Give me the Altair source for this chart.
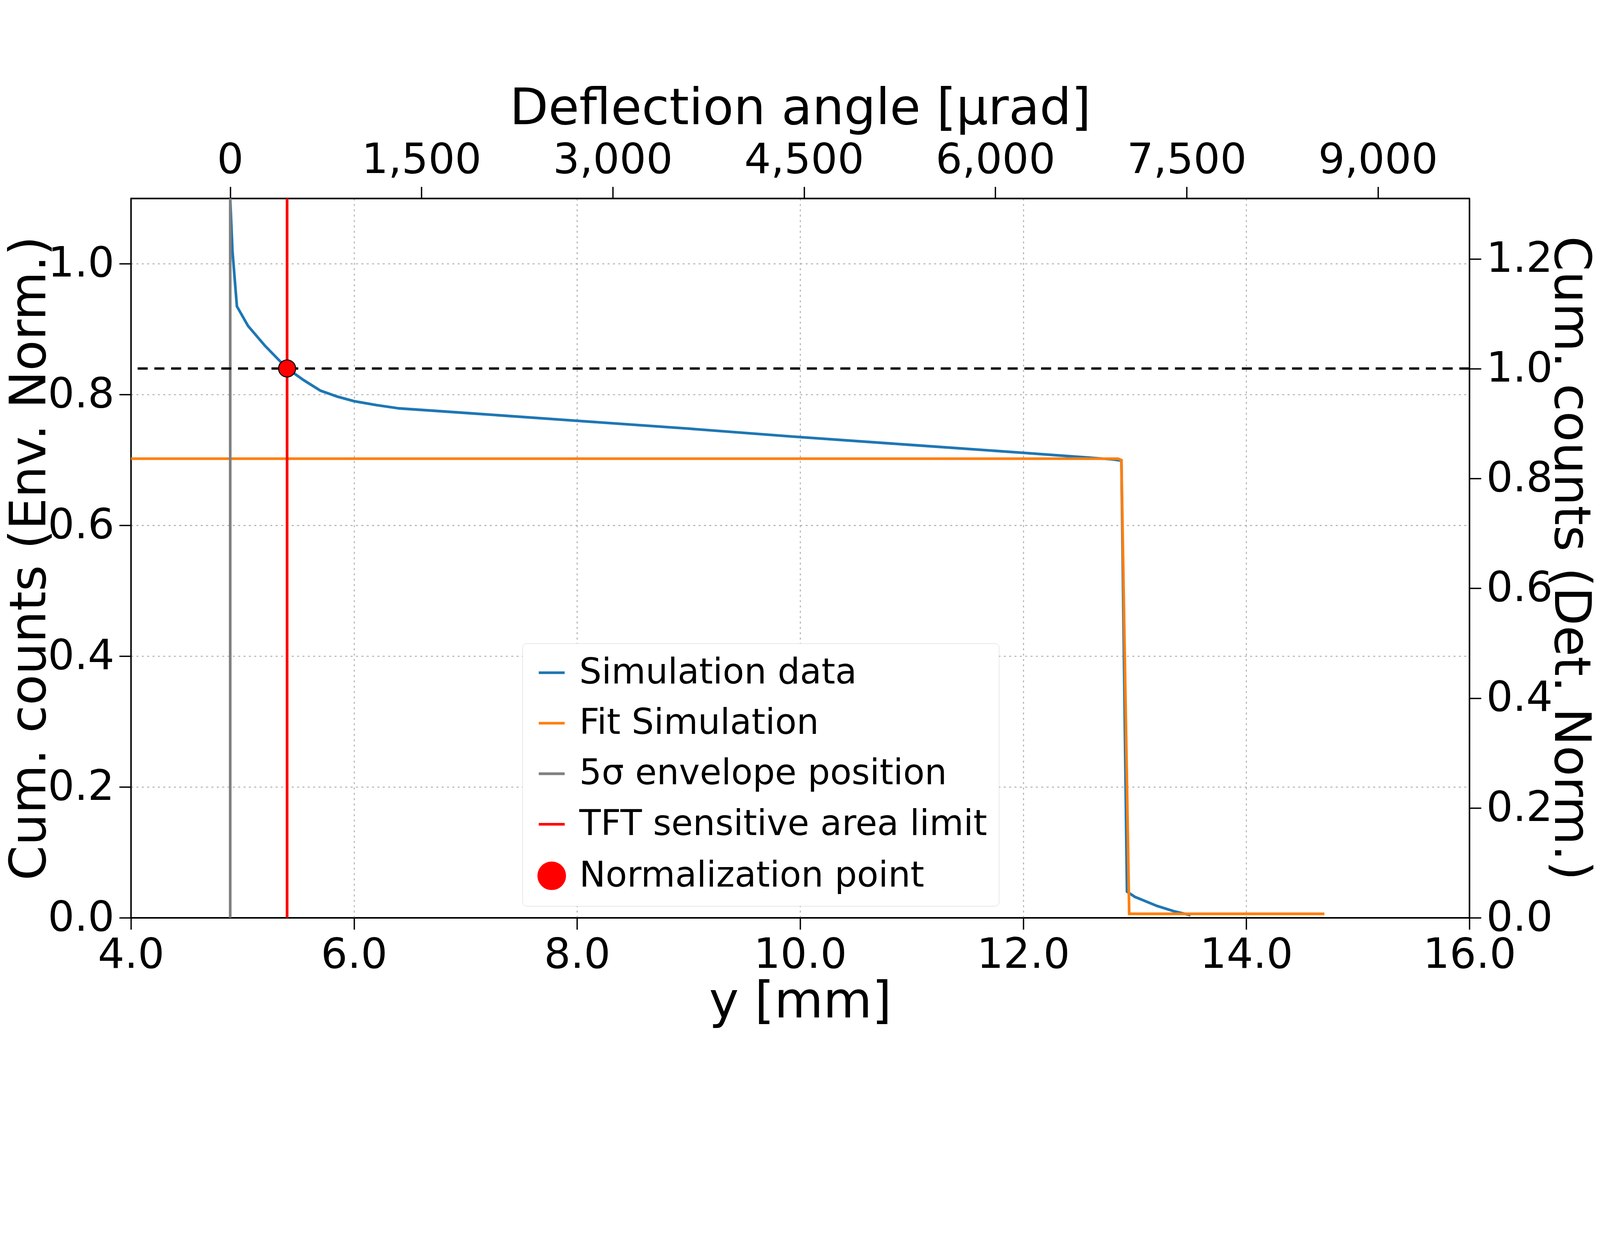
import altair as alt
import pandas as pd

# simulation curve (y [mm], cumulative counts, envelope normalised)
sim_y = [4.89, 4.91, 4.95, 5.05, 5.2, 5.4, 5.55, 5.7, 5.85, 6.0, 6.2, 6.4, 7.0, 8.0, 9.0, 10.0, 11.0, 12.0, 12.8, 12.88, 12.93, 13.0, 13.1, 13.2, 13.35, 13.5]
sim_c = [1.10, 1.02, 0.935, 0.905, 0.875, 0.84, 0.822, 0.806, 0.797, 0.79, 0.784, 0.779, 0.772, 0.760, 0.748, 0.735, 0.723, 0.711, 0.701, 0.699, 0.04, 0.032, 0.025, 0.018, 0.01, 0.004]

fit_y = [4.0, 12.85, 12.88, 12.95, 14.7]
fit_c = [0.702, 0.702, 0.70, 0.006, 0.006]

env_pos = 4.89
tft_pos = 5.4
norm_c = 0.84
top_domain = [-778, 9717]
right_domain = [0, 1.31]

labels = ["Simulation data", "Fit Simulation", "5σ envelope position",
          "TFT sensitive area limit", "Normalization point"]
colors = ["#1f77b4", "#ff7f0e", "gray", "red", "red"]
shapes = ["stroke", "stroke", "stroke", "stroke", "circle"]

lines = pd.concat([
    pd.DataFrame({"x": sim_y, "c": sim_c, "s": labels[0]}),
    pd.DataFrame({"x": fit_y, "c": fit_c, "s": labels[1]}),
    pd.DataFrame({"x": [env_pos, env_pos], "c": [0, 1.1], "s": labels[2]}),
    pd.DataFrame({"x": [tft_pos, tft_pos], "c": [0, 1.1], "s": labels[3]}),
])
point = pd.DataFrame({"x": [tft_pos], "c": [norm_c], "s": [labels[4]]})

FS = 125
color = alt.Color("s:N", scale=alt.Scale(domain=labels, range=colors), title=None,
                  legend=alt.Legend(orient="none", legendX=1170, legendY=1330,
                                    labelFontSize=105, symbolSize=6000, symbolStrokeWidth=8,
                                    labelOffset=30, rowPadding=45, padding=35,
                                    strokeColor="#cccccc", fillColor="white",
                                    cornerRadius=12, labelLimit=3000))
shape = alt.Shape("s:N", scale=alt.Scale(domain=labels, range=shapes), title=None)

common = dict(titleFontSize=150, labelFontSize=FS, tickSize=35, tickWidth=4,
              labelLimit=2000, labelFlush=False, labelPadding=15)
grid = dict(gridDash=[6, 10], gridColor="#b0b0b0", gridWidth=3)
xax = alt.Axis(title="y [mm]", format=".1f", values=[4, 6, 8, 10, 12, 14, 16], **common, **grid)
yax = alt.Axis(title="Cum. counts (Env. Norm.)", values=[0, 0.2, 0.4, 0.6, 0.8, 1.0],
               format=".1f", titlePadding=25, **common, **grid)
X = alt.X("x:Q", scale=alt.Scale(domain=[4, 16], nice=False), axis=xax)
Y = alt.Y("c:Q", scale=alt.Scale(domain=[0, 1.1], nice=False), axis=yax)

base = alt.Chart(lines).mark_line(strokeWidth=8, clip=True).encode(
    x=X, y=Y, color=color, shape=shape, detail="s:N", order=alt.Order("x:Q"))

dash = alt.Chart(pd.DataFrame({"c": [norm_c]})).mark_rule(
    color="black", strokeWidth=7, strokeDash=[30, 20]).encode(y="c:Q")

pt = alt.Chart(point).mark_point(filled=True, size=2600, opacity=1,
                                 stroke="black", strokeWidth=3).encode(
    x="x:Q", y="c:Q", color=color, shape=shape)

main = alt.layer(base, dash, pt)

top = alt.Chart(pd.DataFrame({"a": top_domain})).mark_point(opacity=0).encode(
    x=alt.X("a:Q", scale=alt.Scale(domain=top_domain, nice=False),
            axis=alt.Axis(orient="top", title="Deflection angle [μrad]",
                          values=[0, 1500, 3000, 4500, 6000, 7500, 9000],
                          grid=False, titlePadding=15, **common)))
right = alt.Chart(pd.DataFrame({"r": right_domain})).mark_point(opacity=0).encode(
    y=alt.Y("r:Q", scale=alt.Scale(domain=right_domain, nice=False),
            axis=alt.Axis(orient="right", title="Cum. counts (Det. Norm.)",
                          values=[0, 0.2, 0.4, 0.6, 0.8, 1.0, 1.2], format=".1f",
                          grid=False, titlePadding=25, **common)))

chart = alt.layer(main, top, right).resolve_scale(x="independent", y="independent").properties(
    width=4000, height=2150
).configure_axis(
    labelFont="DejaVu Sans", titleFont="DejaVu Sans", titleFontWeight="normal",
    domainColor="black", domainWidth=4, tickColor="black", labelColor="black", titleColor="black"
).configure_legend(labelFont="DejaVu Sans").configure_view(stroke="black", strokeWidth=4)

chart.save("out.html", embed_options={"renderer": "svg", "actions": False})
